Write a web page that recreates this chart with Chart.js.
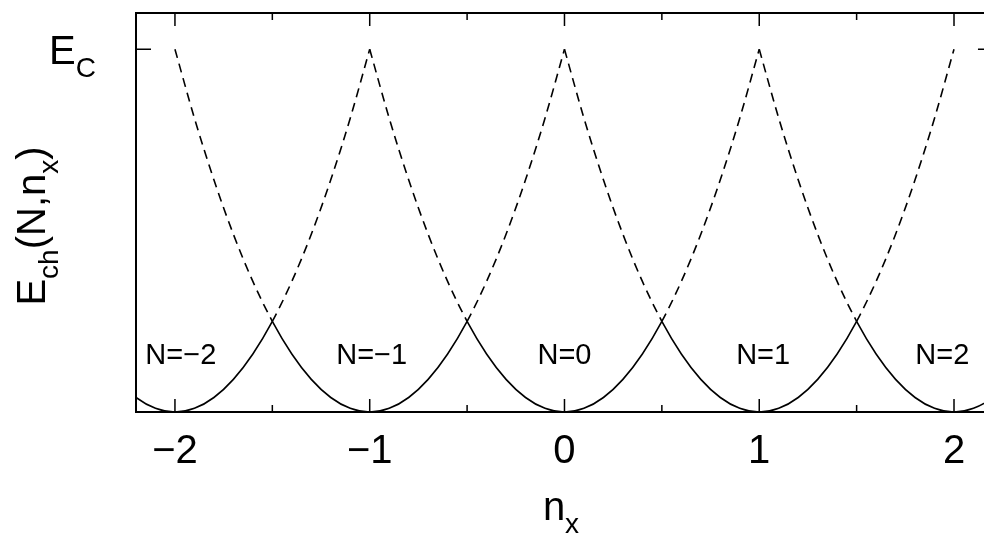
<!DOCTYPE html>
<html>
<head>
<meta charset="utf-8">
<script src="https://cdn.jsdelivr.net/npm/chart.js@4.4.1/dist/chart.umd.min.js"></script>
<style>
  html, body { margin: 0; padding: 0; background: #fff; }
  #wrap { width: 984px; height: 533px; }
</style>
</head>
<body>
<div id="wrap"><canvas id="canvas"></canvas></div>
<script>
// charge number of each parabola
var charges = [-2, -1, 0, 1, 2];
// offsets n_x - N along one parabola and the charging energy (units of E_C)
var offsets  = [-1, -0.9, -0.8, -0.7, -0.6, -0.5, -0.4, -0.3, -0.2, -0.1, 0,
                0.1, 0.2, 0.3, 0.4, 0.5, 0.6, 0.7, 0.8, 0.9, 1];
var energies = [1, 0.81, 0.64, 0.49, 0.36, 0.25, 0.16, 0.09, 0.04, 0.01, 0,
                0.01, 0.04, 0.09, 0.16, 0.25, 0.36, 0.49, 0.64, 0.81, 1];
// where the "N=..." labels sit
var labelX = [-1.97, -0.99, 0, 1.02, 1.94];
var labelY = 0.155;
var labelText = ['N=\u22122', 'N=\u22121', 'N=0', 'N=1', 'N=2'];
// axis ticks
var xMajor = [-2, -1, 0, 1, 2];
var xMajorLabels = ['\u22122', '\u22121', '0', '1', '2'];
var xMinor = [-1.5, -0.5, 0.5, 1.5];
var yTick = 1;
// the frame runs to n_x = 2.2, a little past the canvas edge
var xFrame = 2.2;

var FONT = '"Liberation Sans", Arial, Helvetica, sans-serif';

var datasets = [];
for (var k = 0; k < charges.length; k++) {
  var N = charges[k];
  var pts = [];
  for (var i = 0; i < offsets.length; i++) {
    pts.push({x: N + offsets[i], y: energies[i]});
  }
  datasets.push({
    data: pts,
    N: N,
    showLine: true,
    borderColor: '#000',
    borderWidth: 1.6,
    pointRadius: 0,
    cubicInterpolationMode: 'monotone',
    segment: {
      // outer halves of each parabola are dashed
      borderDash: function(ctx) {
        var n = ctx.p0.parsed.x, m = ctx.p1.parsed.x;
        var c = ctx.chart.data.datasets[ctx.datasetIndex].N;
        var d = Math.max(Math.abs(n - c), Math.abs(m - c));
        return d > 0.5001 ? [9, 6] : [];
      }
    }
  });
}

function subText(ctx, base, sub, x, y, big, small, drop) {
  ctx.font = big + 'px ' + FONT;
  ctx.fillText(base, x, y);
  var w = ctx.measureText(base).width;
  ctx.font = small + 'px ' + FONT;
  ctx.fillText(sub, x + w, y + drop);
  return w + ctx.measureText(sub).width;
}

var decor = {
  id: 'decor',
  afterDatasetsDraw: function(chart) {
    var ctx = chart.ctx, a = chart.chartArea;
    var xs = chart.scales.x, ys = chart.scales.y;
    var right = xs.getPixelForValue(xFrame);
    ctx.save();
    ctx.strokeStyle = '#000';
    ctx.fillStyle = '#000';

    // frame
    ctx.lineWidth = 2;
    ctx.strokeRect(a.left, a.top, right - a.left, a.bottom - a.top);

    // inward ticks
    ctx.lineWidth = 1.5;
    ctx.beginPath();
    xMajor.forEach(function(v) {
      var px = xs.getPixelForValue(v);
      ctx.moveTo(px, a.bottom); ctx.lineTo(px, a.bottom - 13);
      ctx.moveTo(px, a.top); ctx.lineTo(px, a.top + 13);
    });
    xMinor.forEach(function(v) {
      var px = xs.getPixelForValue(v);
      ctx.moveTo(px, a.bottom); ctx.lineTo(px, a.bottom - 7);
      ctx.moveTo(px, a.top); ctx.lineTo(px, a.top + 7);
    });
    var py = ys.getPixelForValue(yTick);
    ctx.moveTo(a.left, py); ctx.lineTo(a.left + 15, py);
    ctx.moveTo(right, py); ctx.lineTo(right - 15, py);
    ctx.stroke();

    // x tick labels
    ctx.font = '40px ' + FONT;
    ctx.textAlign = 'center';
    ctx.textBaseline = 'alphabetic';
    xMajor.forEach(function(v, i) {
      ctx.fillText(xMajorLabels[i], xs.getPixelForValue(v), 463);
    });

    // N labels
    ctx.font = '29px ' + FONT;
    ctx.textBaseline = 'middle';
    labelX.forEach(function(v, i) {
      ctx.fillText(labelText[i], xs.getPixelForValue(v), ys.getPixelForValue(labelY));
    });

    // y tick label E_C
    ctx.textAlign = 'left';
    ctx.textBaseline = 'alphabetic';
    subText(ctx, 'E', 'C', 49, py + 15, 40, 28, 13);

    // x axis title n_x
    ctx.font = '40px ' + FONT;
    var wn = ctx.measureText('n').width;
    ctx.font = '28px ' + FONT;
    var wx = ctx.measureText('x').width;
    subText(ctx, 'n', 'x', 561 - (wn + wx) / 2, 520, 40, 28, 13);

    // y axis title E_ch(N,n_x)
    ctx.save();
    ctx.translate(45, 226);
    ctx.rotate(-Math.PI / 2);
    var parts = [['E', 'ch'], ['(N,n', 'x'], [')', '']];
    var total = 0;
    parts.forEach(function(p) {
      ctx.font = '40px ' + FONT; total += ctx.measureText(p[0]).width;
      ctx.font = '28px ' + FONT; total += ctx.measureText(p[1]).width;
    });
    var cx = -total / 2;
    parts.forEach(function(p) {
      cx += subText(ctx, p[0], p[1], cx, 0, 40, 28, 13);
    });
    ctx.restore();

    ctx.restore();
  }
};

var chart = new Chart(document.getElementById('canvas').getContext('2d'), {
  type: 'scatter',
  data: { datasets: datasets },
  options: {
    responsive: true,
    maintainAspectRatio: false,
    animation: false,
    layout: { padding: { left: 136, top: 13, right: 0, bottom: 121 } },
    plugins: { legend: { display: false }, tooltip: { enabled: false } },
    scales: {
      x: { type: 'linear', min: -2.2, max: 2.154, display: false },
      y: { type: 'linear', min: 0, max: 1.1, display: false }
    }
  },
  plugins: [decor]
});
</script>
</body>
</html>
